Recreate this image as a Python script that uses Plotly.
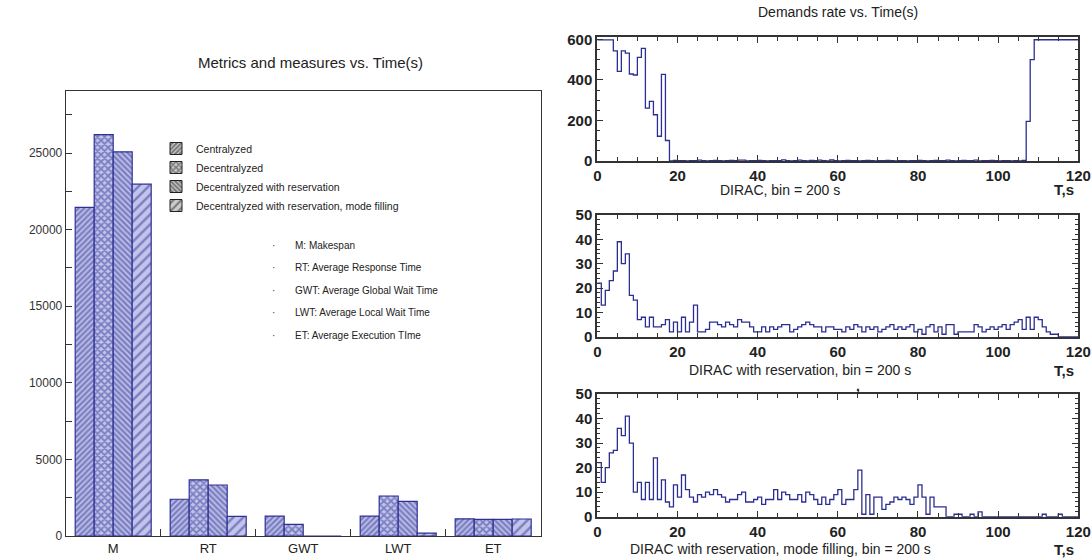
import plotly.graph_objects as go

# ---------------- Left chart data ----------------
categories = ["M", "RT", "GWT", "LWT", "ET"]
series_names = ["Centralyzed", "Decentralyzed", "Decentralyzed with reservation",
                "Decentralyzed with reservation, mode filling"]
centralized = [21450, 2400, 1300, 1300, 1120]
decentralized = [26200, 3670, 760, 2610, 1090]
decentr_res = [25080, 3330, 0, 2260, 1080]
decentr_res_mf = [22970, 1280, 0, 190, 1110]
left_yticks = [0, 5000, 10000, 15000, 20000, 25000]
abbrev_notes = ["M: Makespan", "RT: Average Response Time", "GWT: Average Global Wait Time",
                "LWT: Average Local Wait Time", "ET: Average Execution TIme"]

# ---------------- Right chart data (bin counts, 120 bins) ----------------
bin_edges = list(range(121))
dirac_rate = ([597, 597, 597, 597, 543, 442, 543, 532, 429, 424, 511, 555, 261, 294, 228, 122, 427, 101]
              + [0, 3, 2, 2, 1, 2, 2, 4, 2, 1,
                 2, 3, 2, 1, 2, 3, 2, 4, 4, 1,
                 2, 2, 3, 2, 1, 2, 2, 2, 6, 2,
                 1, 2, 4, 2, 1, 3, 2, 4, 2, 1,
                 5, 2, 1, 2, 3, 2, 2, 1, 2, 3,
                 2, 1, 2, 2, 3, 2, 1, 2, 2, 1,
                 2, 2, 3, 2, 1, 2, 3, 2, 2, 4,
                 2, 1, 2, 3, 2, 2, 4, 1, 2, 2,
                 3, 2, 1, 2, 2, 1, 2, 1, 3]
              + [195, 500] + [598] * 11)
res_rate = [22, 13, 19, 23, 27, 39, 30, 34, 17, 15,
            7, 8, 4, 8, 4, 4, 5, 7, 2, 6,
            2, 8, 2, 6, 13, 2, 2, 3, 6, 6,
            5, 4, 6, 5, 4, 7, 6, 6, 4, 2,
            2, 4, 2, 4, 3, 4, 5, 5, 2, 3,
            4, 5, 6, 5, 4, 4, 2, 4, 4, 3,
            3, 2, 4, 3, 5, 4, 2, 4, 3, 4,
            2, 3, 4, 5, 3, 4, 3, 4, 5, 2,
            3, 1, 4, 5, 2, 4, 1, 5, 5, 1,
            2, 2, 2, 2, 5, 4, 2, 3, 4, 3,
            4, 5, 3, 5, 6, 7, 3, 8, 3, 8,
            7, 4, 2, 1, 1, 0, 0, 0, 0, 0]
mf_rate = [22, 14, 20, 26, 27, 36, 33, 41, 30, 10,
           14, 7, 14, 7, 24, 7, 15, 6, 4, 13,
           8, 17, 11, 8, 6, 9, 8, 10, 9, 11,
           9, 8, 6, 7, 7, 9, 10, 6, 6, 7,
           8, 5, 7, 7, 11, 7, 10, 9, 7, 7,
           9, 6, 10, 9, 7, 5, 8, 5, 7, 9,
           11, 5, 7, 7, 11, 19, 1, 9, 1, 8,
           8, 3, 5, 6, 8, 7, 8, 7, 5, 8,
           13, 8, 1, 8, 4, 4, 4, 0, 0, 1,
           1, 0, 0, 1, 0, 2, 0, 0, 0, 0,
           0, 0, 0, 0, 0, 0, 0, 0, 0, 0,
           0, 1, 0, 0, 0, 1, 0, 0, 0, 0]
panel_captions = ["DIRAC, bin = 200 s", "DIRAC with reservation, bin = 200 s",
                  "DIRAC with reservation, mode filling, bin = 200 s"]

W, H = 1091, 559
def px(x): return x / W
def py(y): return 1 - y / H

BLUE = "#2e3192"
patterns = [dict(shape="/", size=4, solidity=0.62),
            dict(shape="x", size=5, solidity=0.6),
            dict(shape="\\", size=4, solidity=0.62),
            dict(shape="/", size=7, solidity=0.35)]
values = [centralized, decentralized, decentr_res, decentr_res_mf]

fig = go.Figure()
for name, vals, pat in zip(series_names, values, patterns):
    fig.add_trace(go.Bar(
        x=categories, y=vals, name=name, showlegend=False,
        marker=dict(color="white", line=dict(color=BLUE, width=1.2),
                    pattern=dict(fgcolor="#363a9a", bgcolor="#c2c4ea", **pat)),
        xaxis="x", yaxis="y"))
# legend-only swatches (dark grey hatch) on a hidden axis pair
for name, pat in zip(series_names, patterns):
    fig.add_trace(go.Bar(
        x=[None], y=[None], name=name, showlegend=True,
        marker=dict(color="white", line=dict(color="#222", width=1),
                    pattern=dict(fgcolor="#222", bgcolor="#ccc", **pat)),
        xaxis="x5", yaxis="y5"))

# right panels
for vals, ax in zip([dirac_rate, res_rate, mf_rate], ["2", "3", "4"]):
    fig.add_trace(go.Scatter(
        x=bin_edges, y=vals + [vals[-1]], mode="lines", line_shape="hv",
        line=dict(color="#2b2f8f", width=1.3), showlegend=False,
        xaxis="x" + ax, yaxis="y" + ax))

tickfont_r = dict(family="Liberation Sans", size=15, color="#222")
frame = dict(showline=True, linecolor="#333", linewidth=2, mirror="allticks",
             ticks="inside", tickcolor="#333", showgrid=False, zeroline=False,
             tickprefix="<b>", ticksuffix="</b>", automargin=False)

layout = dict(
    width=W, height=H, margin=dict(l=0, r=0, t=0, b=0, autoexpand=False),
    paper_bgcolor="white", plot_bgcolor="white",
    barmode="group", bargap=0.2, bargroupgap=0,
    font=dict(family="Liberation Sans", color="#222"),
    showlegend=True,
    legend=dict(x=px(156), y=py(134), xanchor="left", yanchor="top",
                font=dict(size=10.5, color="#222"), bgcolor="rgba(0,0,0,0)",
                tracegroupgap=0, itemwidth=30),
    xaxis=dict(domain=[px(65.7), px(540.7)], anchor="y", type="category",
               showline=True, linecolor="#333", linewidth=1, mirror=True,
               ticks="inside", tickson="boundaries", ticklen=7, tickcolor="#333",
               tickfont=dict(size=13, color="#222"), showgrid=False, automargin=False),
    yaxis=dict(domain=[py(536), py(91)], anchor="x", range=[0, 29050],
               tickvals=left_yticks, tickformat="d", ticks="inside", ticklen=6, tickcolor="#333",
               minor=dict(dtick=2500, ticks="inside", ticklen=6, tickcolor="#333"),
               showline=True, linecolor="#333", linewidth=1, mirror=True, automargin=False,
               showgrid=False, zeroline=False, tickfont=dict(size=12, color="#333")),
    xaxis5=dict(domain=[0, 0.01], anchor="y5", visible=False, automargin=False),
    yaxis5=dict(domain=[0, 0.01], anchor="x5", visible=False, automargin=False),
)

right_dom = [px(597.3), px(1078.3)]
ydoms = [[py(161), py(37.3)], [py(336.7), py(215)], [py(516.7), py(394)]]
yranges = [[0, 610], [0, 50], [0, 50]]
ydt = [200, 10, 10]
ymin = [50, 2, 2]
for k, ax in enumerate(["2", "3", "4"]):
    layout["xaxis" + ax] = dict(domain=right_dom, anchor="y" + ax, range=[0, 120],
                                dtick=20, ticklen=6, tickfont=tickfont_r,
                                minor=dict(dtick=5, ticks="inside", ticklen=4, tickcolor="#333"),
                                **frame)
    layout["yaxis" + ax] = dict(domain=ydoms[k], anchor="x" + ax, range=yranges[k],
                                dtick=ydt[k], ticklen=6, tickfont=tickfont_r,
                                minor=dict(dtick=ymin[k], ticks="inside", ticklen=3, tickcolor="#333"),
                                **frame)
fig.update_layout(**layout)

def note(text, x, y, size, color="#222", xanchor="center"):
    return dict(text=text, x=px(x), y=py(y), xref="paper", yref="paper", showarrow=False,
                xanchor=xanchor, yanchor="middle", font=dict(size=size, color=color))

ann = [note("Metrics and measures vs. Time(s)", 310, 62, 15),
       note("Demands rate vs. Time(s)", 838, 12, 14)]
for i, t in enumerate(abbrev_notes):
    yy = 245 + i * 22.5
    ann.append(note("·", 273, yy, 10, BLUE))
    ann.append(note(t, 293, yy, 10, xanchor="left"))
cap_y = [190, 370, 549]
cap_x = [780, 800, 780]
tcap_y = [189, 370, 549]
for cy, ty, cx, txt in zip(cap_y, tcap_y, cap_x, panel_captions):
    ann.append(note(txt, cx, cy, 14))
    ann.append(note("<b>T,s</b>", 1064, ty, 15))
ann.append(note("<b>,</b>", 858, 386, 14))
fig.update_layout(annotations=ann)

fig.write_html("out.html")
